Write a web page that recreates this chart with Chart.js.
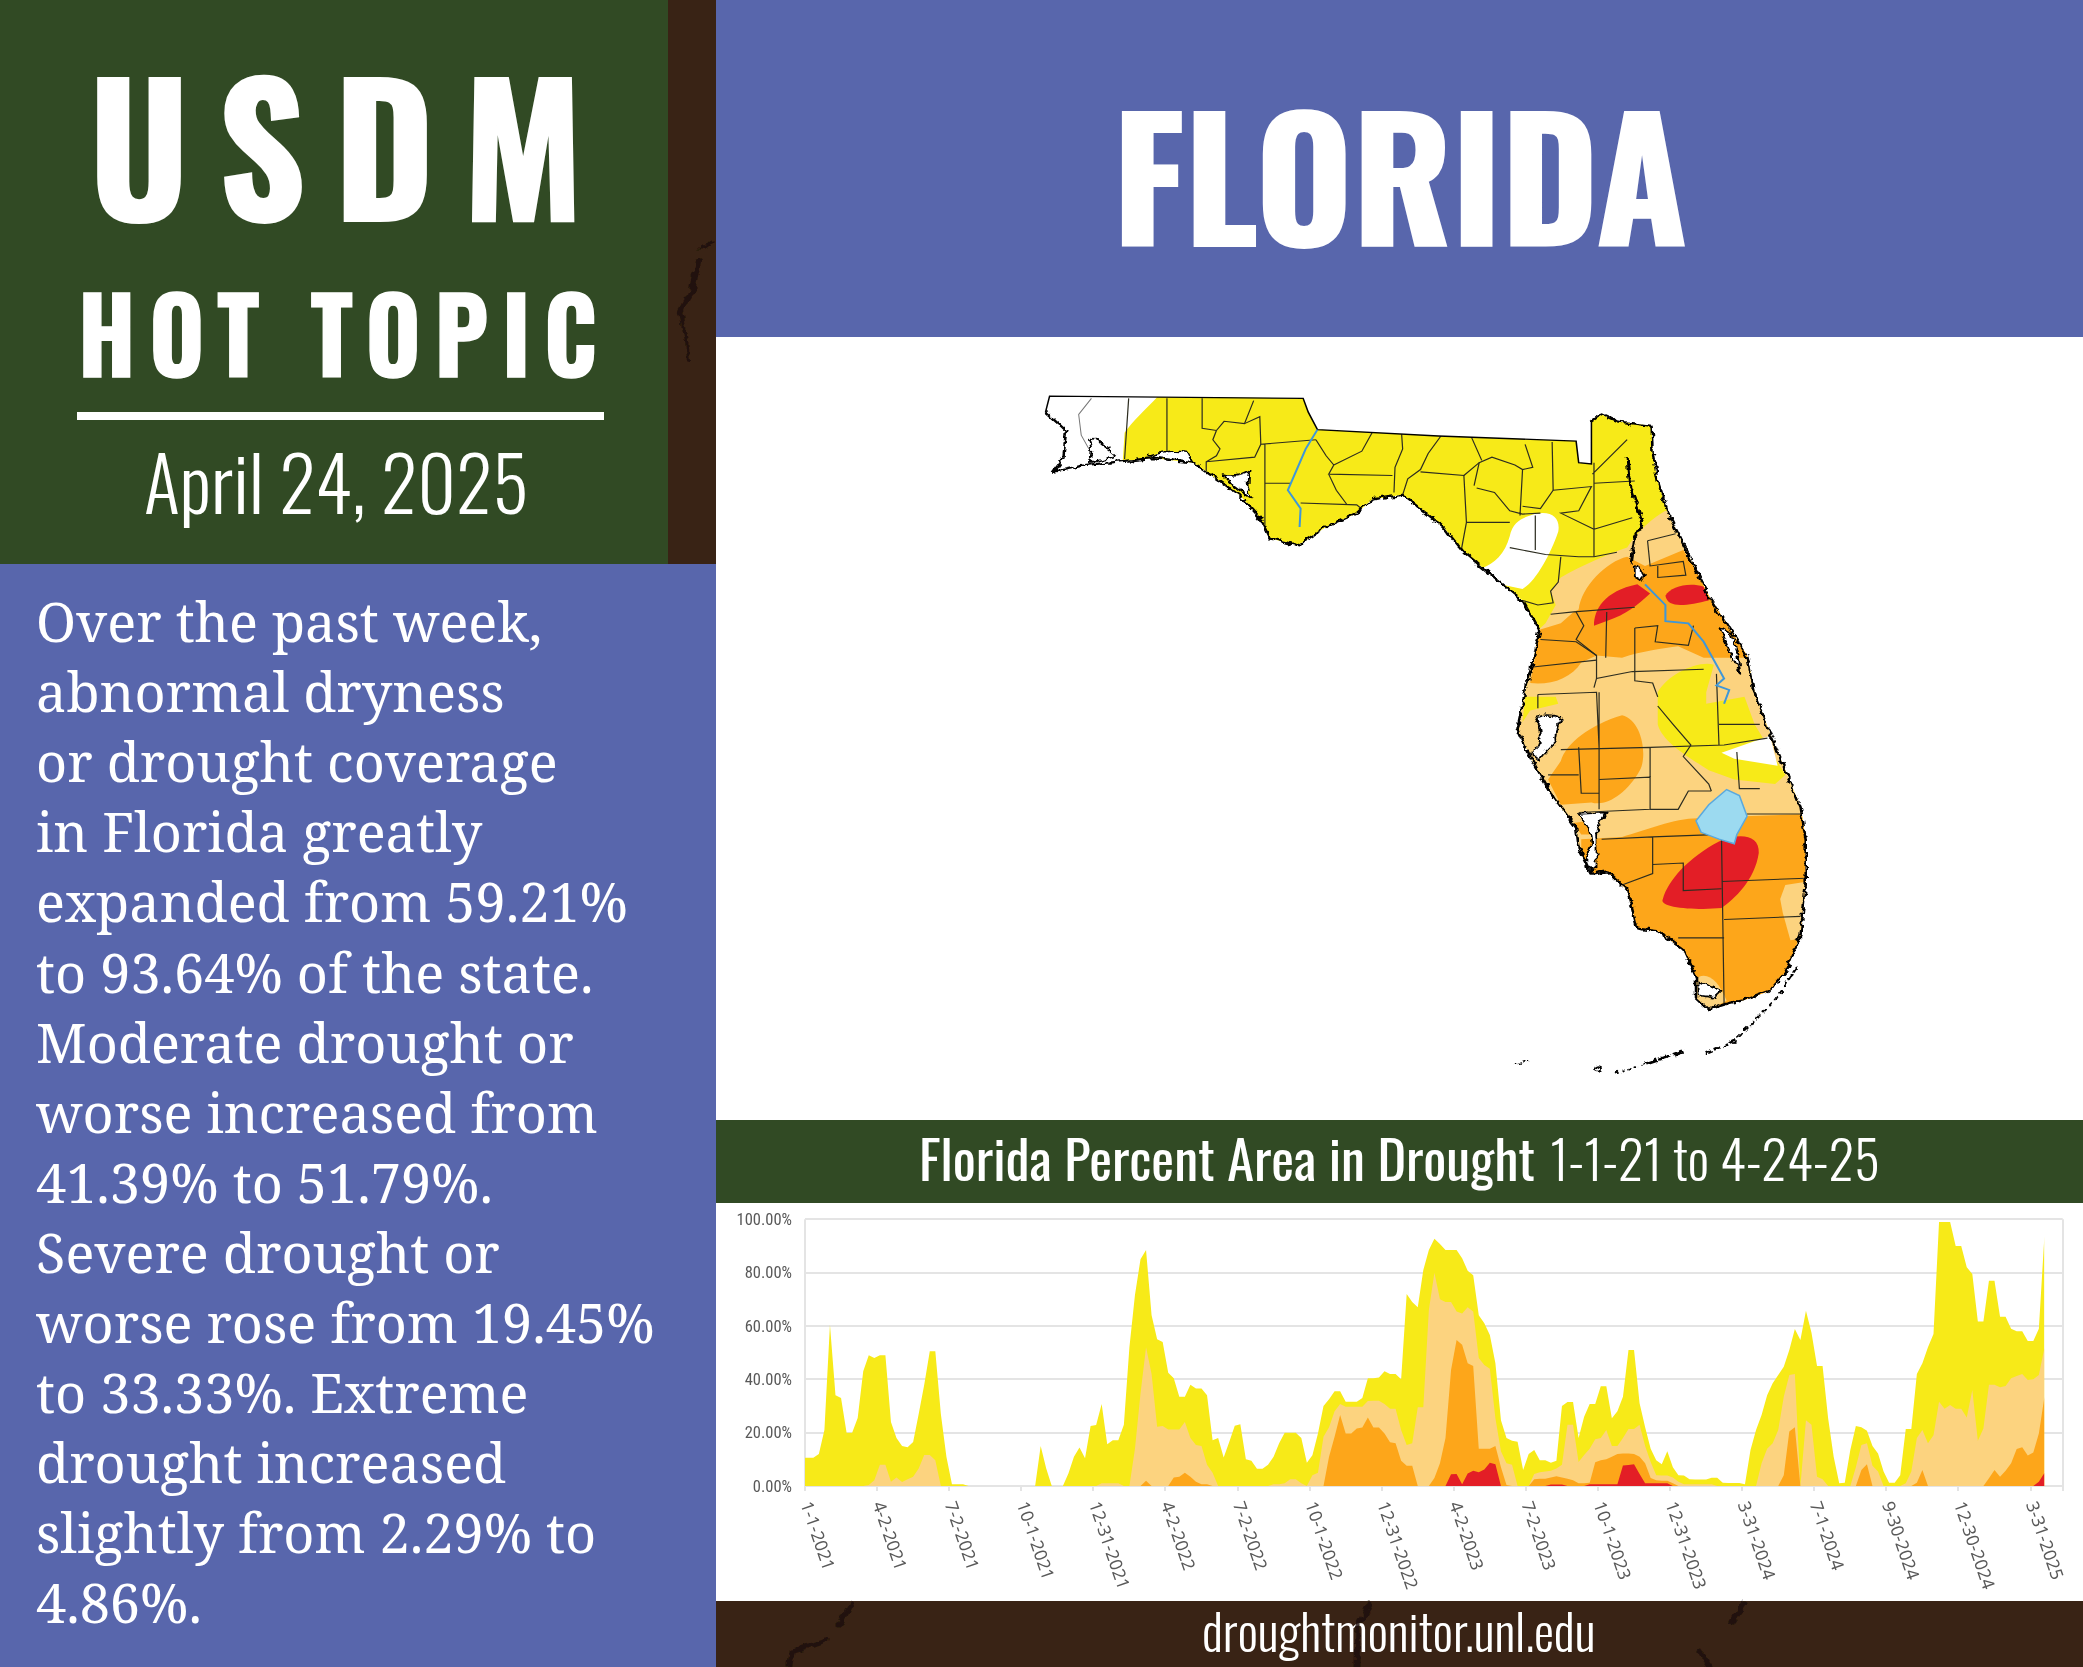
<!DOCTYPE html>
<html>
<head>
<meta charset="utf-8">
<script src="https://cdn.jsdelivr.net/npm/chart.js@4"></script>
<style>
html,body{margin:0;padding:0;background:#fff;}
#page{position:relative;width:2083px;height:1667px;overflow:hidden;background:#fff;font-family:"Oswald","Liberation Sans",sans-serif;color:#fff;}
.box{position:absolute;}
.t{position:absolute;white-space:nowrap;line-height:1;transform-origin:0 0;}
.b{font-weight:700;}
.l{font-weight:300;}
.line{position:absolute;left:36px;white-space:nowrap;font-family:"Noto Serif","Liberation Serif",serif;font-size:54px;line-height:70px;transform-origin:0 0;}
canvas{position:absolute;left:716px;top:1203px;}
svg{position:absolute;}
</style>
</head>
<body>
<div id="page">
  <div class="box" style="left:0;top:0;width:668px;height:564px;background:#314a24"></div>
  <div class="box" style="left:668px;top:0;width:48px;height:564px;background:#392315"></div>
  <div class="box" style="left:716px;top:0;width:1367px;height:337px;background:#5866ac"></div>
  <div class="box" style="left:0;top:564px;width:716px;height:1103px;background:#5866ac"></div>
  <div class="box" style="left:716px;top:1120px;width:1367px;height:83px;background:#314a24"></div>
  <div class="box" style="left:716px;top:1601px;width:1367px;height:66px;background:#392315"></div>
  <div class="box" style="left:77px;top:412px;width:527px;height:8px;background:#fff"></div>

  <div class="t b" data-w="494" style="left:89px;top:54px;font-size:176px;letter-spacing:30px;-webkit-text-stroke:2px #fff">USDM</div>
  <div class="t b" data-w="519" style="left:78px;top:278px;font-size:104px;letter-spacing:15px;-webkit-text-stroke:1.5px #fff">HOT TOPIC</div>
  <div class="t l" data-w="384" style="left:144px;top:443px;font-size:75px">April 24, 2025</div>
  <div class="t b" data-w="574" style="left:1113px;top:89px;font-size:165px;-webkit-text-stroke:2px #fff">FLORIDA</div>
  <div class="t" data-w="616" style="left:919px;top:1132px;font-size:52px">Florida Percent Area in Drought</div>
  <div class="t l" data-w="330" style="left:1550px;top:1132px;font-size:52px">1-1-21 to 4-24-25</div>
  <div class="t l" data-w="393" style="left:1202px;top:1604px;font-size:50px">droughtmonitor.unl.edu</div>

  <div id="body"></div>

  <!-- cracks in the brown strips -->
  <svg style="left:0;top:0" width="2083" height="1667" fill="none" stroke="#1c110a" stroke-linecap="round">
    <defs><filter id="rough" x="-5%" y="-5%" width="110%" height="110%"><feTurbulence type="fractalNoise" baseFrequency="0.09" numOctaves="3" seed="4"/><feDisplacementMap in="SourceGraphic" scale="9" xChannelSelector="R" yChannelSelector="G"/></filter></defs>
    <g filter="url(#rough)" opacity="0.8">
      <path stroke-width="3" d="M712,242 L700,248"/>
      <path stroke-width="6" d="M698,262 L692,290 L680,312"/>
      <path stroke-width="4" d="M680,312 L686,340 L688,360"/>
      <path stroke-width="5" d="M851,1603 L840,1625 M826,1640 L792,1652 L790,1665"/>
      <path stroke-width="5" d="M1370,1603 L1358,1625 L1357,1667"/>
      <path stroke-width="5" d="M1745,1603 L1732,1622 M1701,1653 L1710,1667"/>
    </g>
  </svg>

  <!-- map, traced in a 1568x1568 box -->
  <svg style="left:1020px;top:380px" width="800" height="720" viewBox="0 0 1568 1568" preserveAspectRatio="none">
    <defs>
      <clipPath id="fl"><path id="outline" d="M58,35 L555,40 L565,70 L583,108 L820,122 L1090,133 L1095,180 L1120,183 L1120,90 L1140,75 L1170,90 L1238,100 L1240,160 L1250,220 L1270,290 L1300,360 L1350,470 L1390,540 L1425,600 L1440,680 L1470,770 L1500,850 L1530,930 L1540,1000 L1540,1100 L1530,1210 L1500,1290 L1470,1330 L1420,1350 L1385,1358 L1350,1370 L1325,1345 L1325,1300 L1300,1240 L1250,1200 L1210,1195 L1190,1110 L1150,1070 L1120,1075 L1095,1020 L1090,975 L1040,900 L1000,820 L975,760 L990,680 L1010,590 L1018,545 L985,480 L930,430 L870,375 L830,320 L750,250 L690,260 L660,290 L600,320 L545,360 L490,345 L470,300 L430,250 L340,180 L260,170 L130,185 L65,200 L85,170 L90,110 L50,70 Z"/></clipPath>
      <filter id="coast" x="-5%" y="-5%" width="110%" height="110%"><feTurbulence type="fractalNoise" baseFrequency="0.07" numOctaves="3" seed="7"/><feDisplacementMap in="SourceGraphic" scale="14" xChannelSelector="R" yChannelSelector="G"/></filter>
    </defs>
    <g clip-path="url(#fl)">
      <rect width="1568" height="1568" fill="#fff"/>
      <path fill="#f7ea18" d="M200,200 L205,115 C220,90 250,60 275,30 L1600,30 L1600,1000 L200,1000 Z"/>
      <path fill="#fff" d="M1000,295 C1040,280 1060,300 1055,330 C1040,380 1010,440 985,455 L920,440 L905,410 C930,400 950,380 960,340 C965,310 985,300 1000,295 Z"/>
      <path fill="#fcd37f" d="M1000,560 L1030,530 L1050,490 L1040,460 L1060,430 C1100,405 1150,380 1190,365 C1210,330 1240,300 1265,285 L1600,400 L1600,1500 L900,1500 L900,560 Z"/>
      <path fill="#f7ea18" d="M1250,680 C1270,640 1330,610 1360,620 L1345,680 L1345,705 L1420,690 L1440,750 L1500,860 L1480,880 L1400,870 L1350,850 C1310,820 1260,790 1250,750 Z"/>
      <path fill="#f7ea18" d="M990,690 L1050,690 L1055,705 L1000,720 L985,745 Z"/>
      <path fill="#fff" d="M1375,812 L1470,775 L1485,840 L1400,825 Z"/>
      <path fill="#fda61a" d="M1095,500 C1100,450 1150,395 1190,385 L1225,405 L1300,370 L1340,440 L1400,540 L1435,605 L1340,605 L1290,580 C1260,585 1220,590 1180,605 L1130,600 L1100,615 C1080,650 1040,665 1000,660 L1010,600 L1015,545 L1060,530 L1085,505 Z"/>
      <path fill="#fda61a" d="M1180,730 C1220,740 1230,820 1215,850 C1190,900 1150,930 1120,920 L1060,925 L1035,870 L1060,830 C1070,790 1120,750 1180,730 Z"/>
      <path fill="#fda61a" d="M1180,995 C1230,980 1290,950 1340,955 L1420,950 L1540,945 L1600,1000 L1600,1400 L1100,1400 L1100,1000 Z"/>
      <path fill="#fda61a" d="M1085,965 L1115,960 L1120,990 L1100,990 Z"/>
      <path fill="#fcd37f" d="M1500,1100 L1545,1092 L1540,1215 L1510,1220 L1495,1160 L1490,1130 Z"/>
      <path fill="#fcd37f" d="M1330,1300 C1350,1290 1370,1310 1385,1352 L1345,1375 L1315,1340 Z"/>
      <path fill="#e31e26" d="M1125,535 C1125,500 1145,460 1210,445 L1235,465 C1210,490 1190,510 1150,525 Z"/>
      <path fill="#e31e26" d="M1265,470 C1275,450 1310,440 1340,450 L1350,480 C1310,490 1270,500 1265,470 Z"/>
      <path fill="#e31e26" d="M1260,1130 C1270,1090 1310,1040 1370,1005 C1410,985 1450,990 1448,1030 C1440,1090 1400,1130 1375,1150 C1330,1155 1250,1150 1260,1130 Z"/>
      <g fill="none" stroke="#2d2d20" stroke-width="2.4">
        <path d="M213,40 L205,172 M288,40 L288,155 M357,40 L357,105 L385,110 L400,90 L440,95 L458,45"/>
        <path d="M440,95 L470,80 L472,140 L460,168 L365,178 M385,110 L378,130 L392,150 L385,165 L365,178 L365,205"/>
        <path d="M472,140 L580,130 M480,140 L480,340 M480,225 L530,225 M550,268 L660,272 L680,290"/>
        <path d="M580,130 L600,165 L615,185 L605,205 L730,208 M605,205 L620,240 L640,270 M690,115 L670,155 L615,185"/>
        <path d="M748,118 L750,150 L735,190 L733,245 M825,122 L800,160 L785,195 L760,215 L750,250"/>
        <path d="M785,200 L870,208 L875,310 L865,370 M875,310 L960,310"/>
        <path d="M870,208 L900,180 L925,168 L970,185 L985,195 L1005,190 L990,140 M885,125 L905,175"/>
        <path d="M895,235 L930,245 L960,285 L985,292 L1020,290 M900,180 L890,230 M985,195 L980,295 M1043,135 L1045,240"/>
        <path d="M985,275 L1020,280 L1045,240 L1120,232 L1095,285 L1060,290 L1125,325"/>
        <path d="M1122,205 L1190,130 M1125,225 L1205,220 M1125,180 L1125,385 M1125,325 L1200,300"/>
        <path d="M960,365 L1030,380 L1095,385 L1125,385 L1170,375 M1010,295 L1010,370"/>
        <path d="M1060,385 L1055,440 L1040,460 L1045,485 L1015,490 L985,480"/>
        <path d="M1090,505 L1105,535 L1090,565 L1130,600 L1130,650 M1040,510 L1085,505 L1205,495 M1150,505 L1148,605"/>
        <path d="M1205,540 L1205,655 L1240,660 L1250,690 M1205,540 L1250,535 L1245,570 L1310,578 L1320,535"/>
        <path d="M1230,350 L1285,335 M1230,350 L1235,405 L1300,395 L1305,425 L1250,430 L1250,405"/>
        <path d="M1020,565 L1090,570 L1130,600 M1005,625 L1130,610 M1125,670 L1130,650 L1200,635 L1340,630"/>
        <path d="M1015,685 L1130,680 L1135,800 M1015,685 L1015,715 M1135,680 L1135,935"/>
        <path d="M1060,805 L1235,800 L1380,795 L1465,780 M1135,870 L1235,865 L1235,935 L1095,942 M1235,800 L1235,865"/>
        <path d="M1095,800 L1100,900 L1135,900 M1035,860 L1095,860 M1235,935 L1290,935 L1310,895 L1355,895"/>
        <path d="M1250,710 L1280,750 L1315,795 L1300,820 L1350,880 L1355,895 M1365,640 L1370,795"/>
        <path d="M1405,810 L1410,890 L1450,890 M1370,750 L1450,750 M1425,945 L1535,945"/>
        <path d="M1140,1000 L1240,995 L1360,990 M1240,995 L1240,1075 L1180,1100 M1240,1055 L1300,1052 L1300,1112 L1375,1108"/>
        <path d="M1375,1000 L1380,1360 M1375,1092 L1540,1085 M1380,1175 L1530,1168 M1290,1215 L1380,1215"/>
      </g>
      <path fill="none" stroke="#777" stroke-width="2" d="M140,40 L115,75 L120,120 L135,150"/>
    </g>
    <!-- north and west land borders are thin, the coast is rough and heavy -->
    <path fill="none" stroke="#000" stroke-width="3" d="M50,70 L58,35 L555,40 L565,70 L583,108 L820,122 L1090,133 L1095,180 L1120,183 L1120,90"/>
    <g filter="url(#coast)">
      <g fill="#fff" stroke="#000" stroke-width="3.5" stroke-linejoin="round">
        <path d="M135,132 Q150,120 160,140 Q175,150 188,165 Q160,175 135,180 Q145,155 135,132 Z"/>
        <path d="M250,165 Q290,150 330,158 L340,180 Q290,168 250,165 Z"/>
        <path d="M395,205 Q430,212 450,195 Q440,230 455,258 Q420,235 395,205 Z"/>
        <path d="M1010,735 Q1040,722 1062,740 Q1045,765 1050,790 Q1030,810 1018,830 L1002,815 Q1035,780 1010,735 Z"/>
        <path d="M1095,945 L1150,942 Q1125,975 1130,1000 L1130,1062 L1112,1070 Q1105,1040 1120,1010 Q1120,975 1095,945 Z"/>
        <path d="M1205,405 L1225,420 L1220,440 L1205,430 Z"/>
        <path d="M1370,538 L1392,552 L1405,590 L1412,640 L1395,600 Z"/>
        <path d="M1330,1310 L1375,1330 L1360,1345 L1330,1340 Z"/>
      </g>
      <path fill="none" stroke="#000" stroke-width="5" stroke-linejoin="round" d="M1120,90 L1140,75 L1170,90 L1238,100 L1240,160 L1250,220 L1270,290 L1300,360 L1350,470 L1390,540 L1425,600 L1440,680 L1470,770 L1500,850 L1530,930 L1540,1000 L1540,1100 L1530,1210 L1500,1290 L1470,1330 L1420,1350 L1385,1358 L1350,1370 L1325,1345 L1325,1300 L1300,1240 L1250,1200 L1210,1195 L1190,1110 L1150,1070 L1120,1075 L1095,1020 L1090,975 L1040,900 L1000,820 L975,760 L990,680 L1010,590 L1018,545 L985,480 L930,430 L870,375 L830,320 L750,250 L690,260 L660,290 L600,320 L545,360 L490,345 L470,300 L430,250 L340,180 L260,170 L130,185 L65,200 L85,170 L90,110 L50,70"/>
      <path fill="none" stroke="#000" stroke-width="6" d="M1190,170 L1195,230 L1220,310 L1205,345 L1198,400"/>
      <path fill="none" stroke="#000" stroke-width="5" stroke-dasharray="12 6" d="M1522,1280 L1480,1350 L1400,1440 L1340,1468"/>
      <path fill="none" stroke="#000" stroke-width="8" stroke-dasharray="22 6" d="M1300,1462 L1225,1490"/>
      <path fill="none" stroke="#000" stroke-width="4" stroke-dasharray="6 8" d="M1225,1490 L1160,1510"/>
      <path fill="none" stroke="#000" stroke-width="3" stroke-dasharray="6 3" d="M970,1492 L998,1482"/>
      <circle cx="1133" cy="1500" r="6" fill="#fff" stroke="#000" stroke-width="3"/>
    </g>
    <path fill="#9cdaf0" stroke="#5aa9de" stroke-width="3" d="M1385,892 L1410,905 L1425,950 L1405,990 L1400,1010 L1370,1000 L1335,985 L1325,960 L1350,925 Z"/>
    <path fill="none" stroke="#3f97d8" stroke-width="4" d="M1225,445 L1265,490 L1265,525 L1310,530 L1340,570 L1360,610 L1380,650 L1365,665 L1390,675 L1380,705"/>
    <path fill="none" stroke="#3f97d8" stroke-width="4" d="M583,108 L560,150 L525,240 L550,280 L548,320"/>
  </svg>

  <canvas id="drought" width="1367" height="398"></canvas>
</div>

<script>
// body text, one entry per printed line
const bodyLines = ["Over the past week,","abnormal dryness","or drought coverage","in Florida greatly","expanded from 59.21%","to 93.64% of the state.","Moderate drought or","worse increased from","41.39% to 51.79%.","Severe drought or","worse rose from 19.45%","to 33.33%. Extreme","drought increased","slightly from 2.29% to","4.86%."];

// x axis: a label every 13 weeks
const weeksPerTick = 13;
const tickLabels = ["1-1-2021","4-2-2021","7-2-2021","10-1-2021","12-31-2021","4-2-2022","7-2-2022","10-1-2022","12-31-2022","4-2-2023","7-2-2023","10-1-2023","12-31-2023","3-31-2024","7-1-2024","9-30-2024","12-30-2024","3-31-2025"];

// weekly percent of area
const d0 = [10.6,10.6,12,21,60.5,34,33,20,20,25.5,
  43,49,48,49,49,24,18,15,14.5,16.5,
  27,38,50.5,50.5,27,11,0.7,0.7,0.7,0,
  0,0,0,0,0,0,0,0,0,0,
  0,0,15,6.6,0,0,0,4.7,11,14.4,
  10.4,22.5,22.9,30.7,15.7,17.2,17.2,23,52,71.6,
  85,88.5,64,55,54,42.5,40.4,33.5,33.5,38,
  36.6,36.6,34,17.2,18,10.7,16.5,22.6,23.2,10,
  9.5,6.5,6.5,8,11,16,20,20,20,18,
  8.7,11.5,19.7,30,32.5,35.5,35.5,31.6,31.6,31.6,
  33,40.4,40.4,40.7,43,42,42,40,72,69,
  67,81,88.5,92.7,90.7,88.5,88.5,88.5,85.4,80.7,
  79,64,61,56.6,46,24.7,18,17,16.6,6,
  12,13.5,9.7,9.7,8.7,9.5,30,31.5,31.5,18,
  26,30.7,30.7,37.4,37.4,25.4,28,33.5,51,51,
  31,22,14,9.7,8.2,13,7,4,3.9,2.5,
  2.4,2.4,2.4,3.1,3.1,1.2,1.1,1.1,1.1,0.7,
  13.5,21,26.6,34,38.5,41.6,44.7,51,58.9,54.7,
  65.7,57.5,45,45,25.4,11,1,1.2,13.5,22.5,
  22,20.7,15,12.2,5.4,1.2,1.2,4,21.4,21.4,
  42,46,52,57,99,99,99,90,90,82,
  79.5,61.7,61.7,77,77,63.5,63.5,59,58,58,
  54.4,54.4,59,93.64];
const d1 = [0,0,0,0,0,0,0,0,0,0,
  0,0.4,2.2,8,8,1.6,3.2,1.5,2.5,3.5,
  6.6,11.6,11.6,9.7,0,0,0,0,0,0,
  0,0,0,0,0,0,0,0,0,0,
  0,0,0,0,0,0,0,0,0,0,
  0,0,0,1,1,1,1,0,0,14,
  34.7,52,42,22.2,22.5,21.2,21.2,21.2,24,18,
  15.4,15,8,5,0,0,0,0,0,0,
  0,0,0,0,0.7,0.7,1,2.5,2.5,1,
  0,4,5,18.5,22,28,30.7,29.7,29.7,29.7,
  29.7,31.9,32,32,30.7,29,29,21,15.4,16,
  29.5,29.5,66,80,70,69,69,65.4,64.7,67,
  65.4,48,45.4,44,25.4,13,8.5,8,0,0,
  0,4.5,5.2,5.4,5.7,6.6,8,23,23,9,
  11.6,14,17.5,18,21,15,15,18,21.4,21.4,
  23,15,9,4,3.9,3.9,3.2,1.6,0.7,0.7,
  0.7,0.7,0.7,0.7,0,0,0,0,0,0,
  0,0,8.5,14,16,21,33.5,41.6,42,0,
  24.7,23,3.5,2.5,0,0,0,0,0,7,
  15.4,16,7.6,5.4,0,0,0,0,1,5.4,
  18,21,16,19,31.6,29,30.4,29,29,25.7,
  36,17,21.6,38,38,37,37.5,40.4,41.2,42,
  39.7,40,41.6,51.79];
const d2 = [0,0,0,0,0,0,0,0,0,0,
  0,0,0,0,0,0,0,0,0,0,
  0,0,0,0,0,0,0,0,0,0,
  0,0,0,0,0,0,0,0,0,0,
  0,0,0,0,0,0,0,0,0,0,
  0,0,0,0,0,0,0,0,0,0,
  0,2,0,0,0,0,3.2,3.5,5,3.5,
  1.6,0.7,0.7,0,0,0,0,0,0,0,
  0,0,0,0,0,0,0,0,0,0,
  0,0,0,0,11,18.5,26.6,19.7,19.7,21.6,
  21.9,25.7,21.9,21.9,19.7,16.4,16,9.5,7.6,7.6,
  0,0,0,3,8.5,18,43.5,54.7,53,46,
  45,14,14,14,15,7,0.4,0,0,0,
  0,2.5,2.7,2.7,3.2,3.7,3.2,2.7,2.2,1,
  1,1.2,8.9,9.7,10,11,12,12.2,12.2,12,
  11,8.5,3,2.2,2,2,1,0,0,0,
  0,0,0,0,0,0,0,0,0,0,
  0,0,0,0,0,0,4,20.4,22,0,
  0,0,0,0,0,0,0,0,0,0,
  6,8.2,0,0,0,0,0,0,0,0,
  1.2,6,0,0,0,0,0,0,0,0,
  0,0,0,2.9,6,3.5,5.7,8.5,13.9,14.5,
  11.4,12.6,19.7,33.33];
const d3 = [0,0,0,0,0,0,0,0,0,0,
  0,0,0,0,0,0,0,0,0,0,
  0,0,0,0,0,0,0,0,0,0,
  0,0,0,0,0,0,0,0,0,0,
  0,0,0,0,0,0,0,0,0,0,
  0,0,0,0,0,0,0,0,0,0,
  0,0,0,0,0,0,0,0,0,0,
  0,0,0,0,0,0,0,0,0,0,
  0,0,0,0,0,0,0,0,0,0,
  0,0,0,0,0,0,0,0,0,0,
  0,0,0,0,0,0,0,0,0,0,
  0,0,0,0,0,0,4.4,4.5,0.7,4.7,
  5.7,5.2,6.2,8.7,8.2,0,0,0,0,0,
  0,0,0,0,0.6,0.6,0.6,0,0,0,
  0,0.7,0.7,0.7,0.7,0.7,0.7,7.7,7.9,8.2,
  4.5,1,1,1,1,1,0,0,0,0,
  0,0,0,0,0,0,0,0,0,0,
  0,0,0,0,0,0,0,0,0,0,
  0,0,0,0,0,0,0,0,0,0,
  0,0,0,0,0,0,0,0,0,0,
  0,0,0,0,0,0,0,0,0,0,
  0,0,0,0,0,0,0,0,0,0,
  0,0,1.6,4.86];

// left column text
const bodyBox = document.getElementById("body");
const bodyEls = bodyLines.map((txt, i) => {
  const el = document.createElement("div");
  el.className = "line";
  el.style.top = (586 + i * 70.1) + "px";
  el.textContent = txt;
  bodyBox.appendChild(el);
  return el;
});
// widest printed line is 619px
const bodyScale = 619 / bodyEls[10].offsetWidth;
bodyEls.forEach(el => { el.style.transform = "scaleX(" + bodyScale + ")"; });

// fit headline text to its measured width
document.querySelectorAll(".t[data-w]").forEach(el => {
  const ls = parseFloat(getComputedStyle(el).letterSpacing) || 0;
  const scale = parseFloat(el.dataset.w) / (el.offsetWidth - ls);
  el.style.transform = "scaleX(" + scale + ")";
});

// vertices sit half a week after the tick, the fill starts at the axis
function toPoints(values) {
  const pts = values.map((y, k) => ({ x: k + 0.5, y: y }));
  pts.unshift({ x: 0, y: values[0] });
  return pts;
}

function area(label, values, color) {
  return { label: label, data: toPoints(values), backgroundColor: color, borderWidth: 0, pointRadius: 0, tension: 0, fill: "origin" };
}

const gridColor = "#e4e4e4";
const lastWeek = 226.8;

new Chart(document.getElementById("drought"), {
  type: "line",
  data: {
    datasets: [
      area("D3", d3, "#e31e26"),
      area("D2", d2, "#fda61a"),
      area("D1", d1, "#fcd37f"),
      area("D0", d0, "#f7ea18")
    ]
  },
  options: {
    responsive: false,
    animation: false,
    layout: { autoPadding: false, padding: { top: 16.3, right: 20.3, left: 0, bottom: 0 } },
    plugins: { legend: { display: false }, tooltip: { enabled: false } },
    scales: {
      x: {
        type: "linear",
        min: 0,
        max: lastWeek,
        border: { color: gridColor, width: 2 },
        grid: {
          color: ctx => (ctx.tick && (ctx.tick.value === 0 || ctx.tick.value === lastWeek)) ? gridColor : "transparent",
          lineWidth: 2,
          tickColor: gridColor,
          tickLength: 5
        },
        ticks: {
          stepSize: weeksPerTick,
          autoSkip: false,
          minRotation: -71,
          maxRotation: -71,
          padding: 8,
          color: "#595959",
          font: { family: "'Noto Sans'", size: 17.5 },
          callback: v => tickLabels[v / weeksPerTick] || ""
        },
        afterBuildTicks: s => { s._getXAxisLabelAlignment = () => "left"; },
        afterFit: s => { s.height = 115; }
      },
      y: {
        min: 0,
        max: 100,
        border: { display: false },
        grid: { color: gridColor, lineWidth: 2, drawTicks: false },
        ticks: {
          stepSize: 20,
          padding: 13,
          labelOffset: 1.5,
          color: "#595959",
          font: { family: "'Roboto Condensed','Noto Sans'", size: 16.5 },
          callback: v => v.toFixed(2) + "%"
        },
        // tick padding would otherwise push the plot top down past the layout padding
        afterFit: s => { s.width = 89; s.paddingTop = 0; s.paddingBottom = 0; }
      }
    }
  }
});
</script>
</body>
</html>
